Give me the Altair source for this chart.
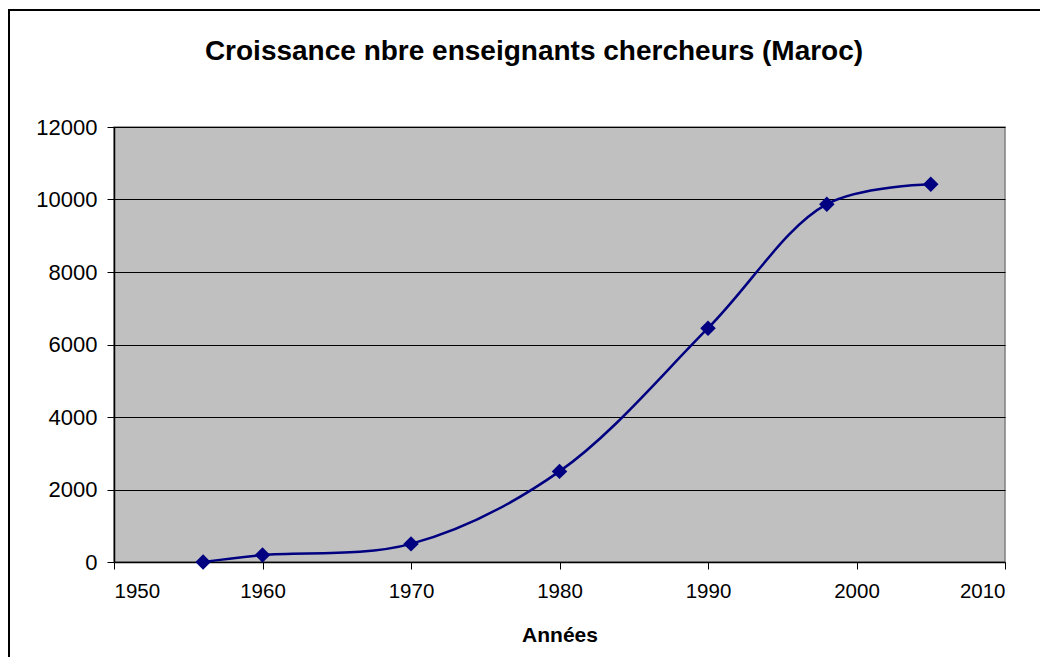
import altair as alt
import pandas as pd

years = [1956, 1960, 1970, 1980, 1990, 1998, 2005]
counts = [0, 190, 500, 2500, 6450, 9870, 10420]
x_ticks = [1950, 1960, 1970, 1980, 1990, 2000, 2010]
y_ticks = [0, 2000, 4000, 6000, 8000, 10000, 12000]
title_text = ["Croissance nbre enseignants chercheurs (Maroc)"]

df = pd.DataFrame({"year": years, "count": counts})
FONT = "Liberation Sans"

x_enc = alt.X(
    "year:Q",
    scale=alt.Scale(domain=[1950, 2010], nice=False, zero=False),
    axis=alt.Axis(
        title="Années", values=x_ticks, format="d", grid=False,
        labelFont=FONT, labelFontSize=20.5, labelColor="black",
        titleFont=FONT, titleFontSize=21, titleFontWeight="bold", titleColor="black",
        tickSize=7, tickColor="#000000", domainColor="#000000", domainWidth=1.5,
        labelPadding=12, titlePadding=23,
    ),
)
y_enc = alt.Y(
    "count:Q",
    scale=alt.Scale(domain=[0, 12000], nice=False),
    axis=alt.Axis(
        title=None, values=y_ticks, format="d", grid=True,
        gridColor="#000000", gridWidth=1, gridOpacity=1,
        labelFont=FONT, labelFontSize=22, labelColor="black",
        tickSize=7, tickColor="#000000", domainColor="#000000", domainWidth=1.5,
        labelPadding=10,
    ),
)

base = alt.Chart(df).encode(x=x_enc, y=y_enc)
line = base.mark_line(color="#000080", strokeWidth=2.5, interpolate="catmull-rom")
pts = base.mark_point(shape="diamond", filled=True, color="#000080", size=240, opacity=1)

one = pd.DataFrame({"t": title_text})
border_left = alt.Chart(one).mark_rule(color="black", strokeWidth=2, clip=False).encode(
    x=alt.value(-105), y=alt.value(-118), y2=alt.value(560))
border_top = alt.Chart(one).mark_rule(color="black", strokeWidth=2, clip=False).encode(
    x=alt.value(-106), x2=alt.value(940), y=alt.value(-117))
title = alt.Chart(one).mark_text(
    font=FONT, fontSize=28, fontWeight="bold", color="black",
    align="center", baseline="alphabetic", clip=False,
).encode(text="t:N", x=alt.value(420), y=alt.value(-67))

chart = alt.layer(border_left, border_top, title, line, pts).properties(
    width=891,
    height=435,
    autosize=alt.AutoSizeParams(type="none"),
    padding={"left": 106, "top": 119, "right": 35, "bottom": 95},
    background="white",
).configure_view(
    fill="#C0C0C0", stroke="#808080", strokeWidth=1.5
)

chart.save("out.html", embed_options={"renderer": "svg", "actions": False})
